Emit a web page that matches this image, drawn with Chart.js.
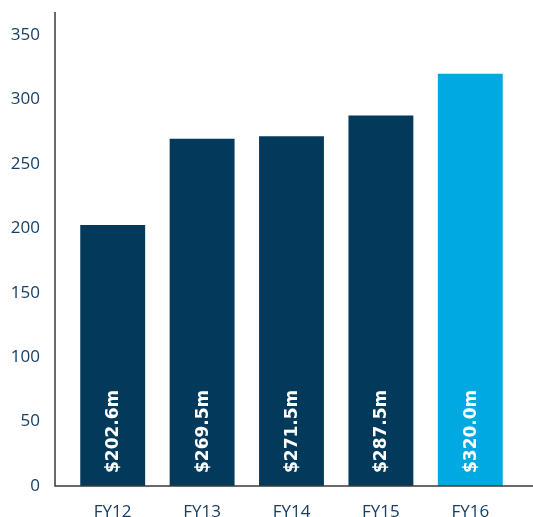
<!DOCTYPE html>
<html lang="en">
<head>
    <meta charset="UTF-8">
    <title>Revenue FY12-FY16</title>
    <script src="https://cdn.jsdelivr.net/npm/chart.js@4.4.1/dist/chart.umd.min.js"></script>
    <style>
        body { margin: 0; background: #fff; }
        #wrap { width: 533px; height: 517px; }
    </style>
</head>
<body>
<div id="wrap">
    <canvas id="revChart" width="533" height="517"></canvas>
</div>
<script>
    // data
    const years = ['FY12', 'FY13', 'FY14', 'FY15', 'FY16'];
    const revenue = [202.6, 269.5, 271.5, 287.5, 320.0];
    const valueLabels = ['$202.6m', '$269.5m', '$271.5m', '$287.5m', '$320.0m'];
    const yTicks = [0, 50, 100, 150, 200, 250, 300, 350];

    const navy = '#033a5c';
    const cyan = '#00a9e1';
    const textColor = '#163f63';

    // axis lines sit a bit outside the bar area
    const axisLines = {
        id: 'axisLines',
        afterDraw(chart) {
            const { ctx, chartArea } = chart;
            const x0 = chartArea.left - 13;
            ctx.save();
            ctx.strokeStyle = '#3a3a3a';
            ctx.lineWidth = 1.5;
            ctx.beginPath();
            ctx.moveTo(x0, 12);
            ctx.lineTo(x0, chartArea.bottom);
            ctx.lineTo(chart.width, chartArea.bottom);
            ctx.stroke();
            ctx.restore();
        }
    };

    // rotated white labels inside bars
    const barLabels = {
        id: 'barLabels',
        afterDatasetsDraw(chart) {
            const { ctx } = chart;
            const meta = chart.getDatasetMeta(0);
            ctx.save();
            ctx.fillStyle = '#ffffff';
            ctx.font = 'bold 17px "DejaVu Sans"';
            ctx.textAlign = 'left';
            ctx.textBaseline = 'middle';
            meta.data.forEach(function (bar, i) {
                ctx.save();
                ctx.translate(bar.x, bar.base - 13);
                ctx.rotate(-Math.PI / 2);
                ctx.fillText(valueLabels[i], 0, 1);
                ctx.restore();
            });
            ctx.restore();
        }
    };

    new Chart(document.getElementById('revChart'), {
        type: 'bar',
        data: {
            labels: years,
            datasets: [{
                data: revenue,
                backgroundColor: [navy, navy, navy, navy, cyan],
                borderWidth: 0,
                barPercentage: 0.726,
                categoryPercentage: 1.0
            }]
        },
        options: {
            responsive: false,
            animation: false,
            layout: { padding: { top: 35, right: 18, left: 0, bottom: 0 } },
            plugins: {
                legend: { display: false },
                tooltip: { enabled: false }
            },
            scales: {
                x: {
                    grid: { display: false, drawTicks: false },
                    border: { display: false },
                    ticks: {
                        color: textColor,
                        font: { family: '"Open Sans"', size: 17 },
                        padding: 16
                    },
                    afterFit(scale) { scale.height = 31; }
                },
                y: {
                    min: 0,
                    max: 350,
                    grid: { display: false, drawTicks: false },
                    border: { display: false },
                    afterBuildTicks(scale) {
                        scale.ticks = yTicks.map(v => ({ value: v }));
                    },
                    ticks: {
                        color: textColor,
                        font: { family: '"Open Sans"', size: 17 },
                        padding: 28
                    },
                    afterFit(scale) {
                        scale.width = 68;
                        scale.paddingTop = 0;
                        scale.paddingBottom = 0;
                    }
                }
            }
        },
        plugins: [axisLines, barLabels]
    });
</script>
</body>
</html>
